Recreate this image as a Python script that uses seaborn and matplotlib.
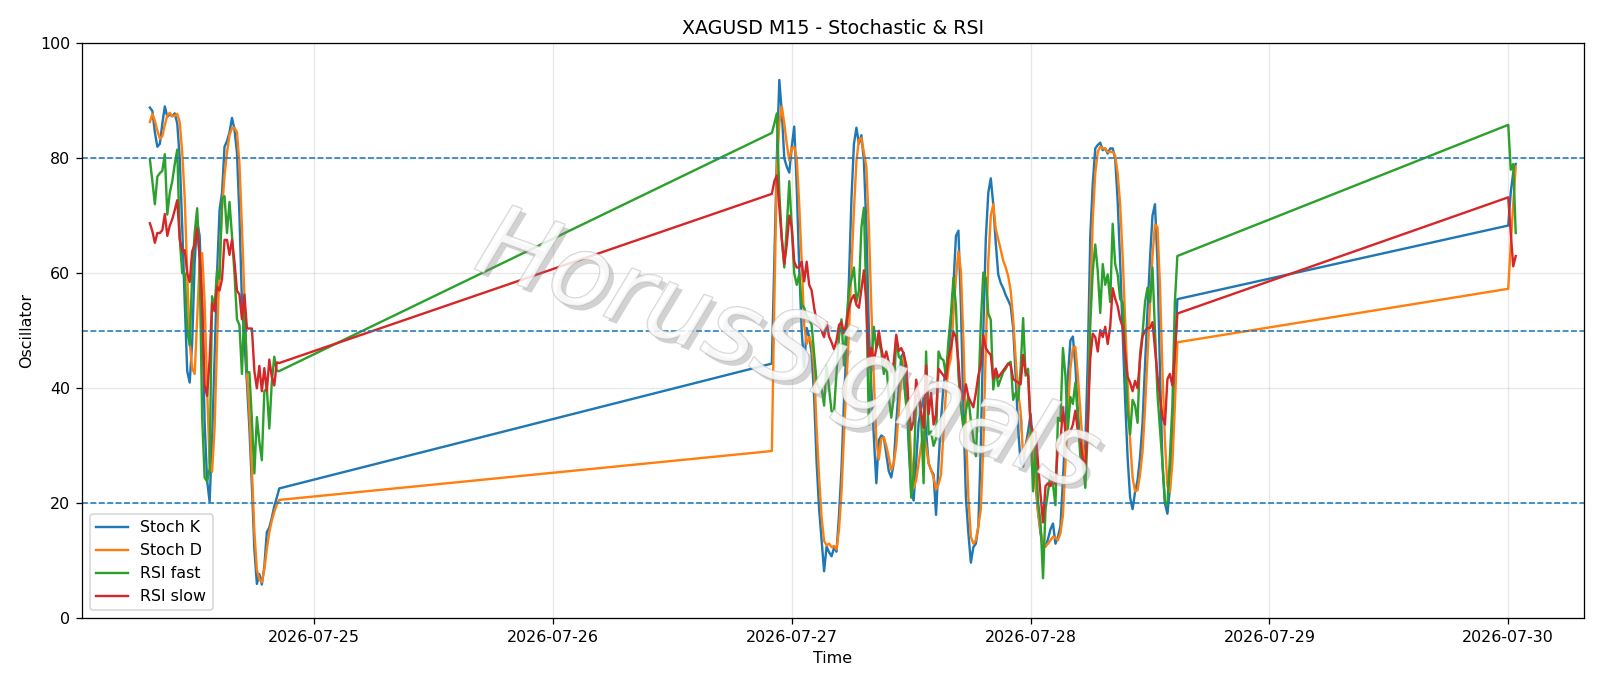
import pandas as pd
import matplotlib
matplotlib.use("Agg")
import matplotlib.pyplot as plt
import matplotlib.dates as mdates
import matplotlib.patheffects as pe
import seaborn as sns

# M15 bars, three sessions with gaps between them
seg_starts = ["2026-07-24 07:30", "2026-07-26 22:00", "2026-07-30 00:00"]

# session 1 (53 bars)
stoch_k_1 = [88.8, 88.2, 84.5, 82, 82.5, 86, 89, 87.2, 87.6,
             87.3, 87.8, 86, 80, 68, 55, 43, 41, 48, 62,
             69, 66.5, 54, 34, 24, 20.3, 31, 45, 60, 71,
             74, 82, 83, 84.5, 87, 85, 81, 70, 55, 48,
             41, 33, 23, 12, 6, 7.7, 5.9, 9, 15,
             15.8, 17.5, 19.5, 21, 22.6]
stoch_d_1 = [86.3, 87.7, 86.5, 84.8, 83.4, 83.8, 85.8, 87.4, 87.9,
             87.3, 87.4, 87.7, 86.3, 81, 73, 60, 48, 43.5, 42.5,
             52, 62, 63.5, 55, 40, 27, 25.5, 33, 48, 62,
             71, 77, 81, 84, 85.2, 85.3, 84.5, 79, 68, 56,
             43, 36, 26, 15, 8.5, 6.8, 6.3, 8.5, 12,
             15, 17, 18.5, 19.8, 20.6]
rsi_fast_1 = [79.8, 76, 72, 76.8, 77.4, 77.8, 80.7, 70.2, 74,
              76, 79, 81.5, 66, 60, 60, 50, 47.5, 60, 67,
              71.3, 62, 35, 24.5, 23.8, 26, 56, 54, 60.5, 59,
              73, 73.4, 67, 72.4, 66.5, 60, 52, 51, 42.5, 54.8,
              42.8, 42.8, 34.5, 25.2, 35, 30.7, 27.5, 39.5, 40,
              33, 41, 45.5, 43, 43]
rsi_slow_1 = [68.7, 67.3, 65.3, 67, 67, 67.5, 70.3, 66.5, 68.3,
              69.4, 71, 72.7, 66, 63.8, 64, 60, 58.5, 63.8, 65,
              67.8, 63, 55, 40.5, 38.7, 45, 54.8, 53.4, 57.7, 57,
              59, 65.8, 65.8, 63.2, 65.8, 62, 57, 56.3, 52, 56.3,
              50.4, 50.4, 50.4, 43, 40, 43.9, 39.5, 43.5, 39.5,
              45, 42, 40.5, 44.5, 44.4]

# session 2 (164 bars)
stoch_k_2 = [44.3, 62, 80, 93.6, 88, 80, 78.5, 77.5, 82, 85.5,
             75, 61, 50, 43.7, 50.5, 49, 46, 38.5, 27, 19,
             13.6, 8.2, 12.5, 11.5, 10.8, 12.3, 11.6, 18, 26, 38,
             47, 59, 73, 82.5, 85.3, 82.5, 84, 79.5, 68, 50,
             40, 31.5, 23.5, 31, 31.8, 31.5, 28.5, 25.6, 24.5, 27,
             34, 40, 45.5, 46.2, 40, 30, 22, 20.5, 27, 34,
             36.5, 38.3, 32.5, 27, 25.8, 25, 18, 27, 34.5, 40.5,
             43.5, 45.5, 50.7, 58, 66.5, 67.4, 54.3, 36, 21, 14.8,
             9.7, 12.4, 13, 16, 30, 50, 66, 74, 76.5, 72,
             65.3, 59.8, 58.3, 57.4, 56.2, 55.3, 54.3, 50.5, 42.2, 33,
             27, 26.4, 30, 32.5, 35.5, 30, 23.3, 18.5, 14.8, 12.4,
             12.5, 13.8, 15.5, 16.5, 13, 14.2, 16, 24, 33, 42,
             48.3, 49, 44, 36, 30, 27, 30, 45, 66.5, 75.6,
             81.7, 82.3, 82.7, 81.4, 81.7, 80.8, 81.7, 81.7, 80, 72.6,
             62, 50, 38, 28, 21, 19, 22, 24, 28, 34,
             44, 53.5, 62.5, 70, 72, 62, 43, 27, 20, 18.2,
             22.5, 33, 45, 55.5]
stoch_d_2 = [29.1, 55, 78, 86, 89, 86, 82.5, 79.6, 81.7, 82,
             80, 72, 62, 51, 47.7, 48.9, 47.7, 43.5, 33, 24.5,
             17.5, 13.5, 12.7, 13, 12.4, 12.6, 12, 15.5, 22, 32,
             41, 50, 61, 71, 79.5, 83.2, 83.5, 81, 78.5, 68,
             54, 41.5, 31, 27.6, 31.2, 31.5, 30, 28, 25.8, 27,
             30, 36, 42, 45.6, 44, 36, 28, 22.7, 24, 27,
             30, 32.5, 30, 27, 25.8, 24.5, 22.4, 23.3, 25, 32.5,
             39.5, 43.5, 45.3, 53, 59.2, 63.8, 60.4, 48.3, 33, 21,
             14.2, 13, 13.6, 16, 19, 30, 47, 62, 70, 72,
             67.7, 65.9, 64.1, 62.2, 61, 59.5, 57, 52, 45.2, 39.2,
             36, 28.2, 30, 31.3, 32.5, 30, 24, 18.5, 15.4, 13,
             12.5, 13, 13.6, 14.2, 14, 13.6, 14.8, 17.9, 27, 36,
             43.4, 47, 47.2, 42.2, 36, 30, 27, 33, 54.3, 69.5,
             77.4, 81.1, 82, 81.7, 81.7, 81.1, 81.1, 81.1, 80.5, 77.4,
             72, 63, 52, 41, 31, 24.5, 22.1, 22.3, 25, 29,
             36.5, 45.5, 54.5, 63, 68.5, 68, 58, 43, 31, 23,
             22, 27, 37, 48]
rsi_fast_2 = [84.4, 86, 87.8, 74, 66, 61, 68, 76, 68, 60,
              58, 59.8, 54.5, 54, 52.5, 52, 51, 46, 41, 40,
              40, 37, 44, 40, 36, 36, 42.8, 49, 52, 44,
              51.5, 57.2, 59, 61, 55, 57, 68, 71.4, 55, 33.7,
              44.6, 50.7, 47, 48.3, 46.4, 42.5, 44.5, 38.5, 34.9, 38.5,
              49, 45.5, 45, 41.5, 37, 33, 21, 25, 38.5, 39,
              35, 23.5, 46.4, 32, 32.5, 30, 31.3, 46.4, 45.2, 44.9,
              42.2, 48.3, 53, 59.2, 54.3, 42.2, 36.7, 33.1, 36.1, 38.5,
              34.3, 31.3, 28.2, 38.5, 51.3, 60.1, 59.2, 53, 51.9, 39.8,
              43.4, 40.4, 41.6, 42.8, 43.4, 44.3, 44.6, 38, 39.2, 38,
              43.4, 52.2, 42.2, 43.4, 33.1, 22.1, 30, 20.3, 16.7, 7,
              19, 22, 25, 23.3, 19.7, 34.9, 34.3, 47, 42.2, 33,
              38.5, 37.3, 41, 34.9, 28.2, 27, 22.7, 33, 51.3, 60.4,
              65, 60.4, 53.1, 61.6, 58, 59.8, 55, 68.6, 61.6, 59.8,
              55.5, 55, 46, 36, 32, 38, 37, 34, 46, 49.5,
              55, 57.5, 55, 61, 50, 39, 33, 27, 20.3, 19.7,
              28, 37, 55, 63]
rsi_slow_2 = [73.8, 76, 77, 71.4, 66, 61.6, 65, 70, 68, 62,
              61, 61, 62, 58.6, 62, 58, 57, 54, 51.6, 51.3,
              50, 48.9, 51.5, 49, 48, 46.8, 48.3, 51, 51.5, 49.5,
              51.5, 54, 55.5, 56.2, 54.5, 54, 57.2, 60.5, 54.5, 43.8,
              47, 44.6, 47, 50, 47, 44.8, 46.4, 44.5, 42.8, 44.5,
              49.3, 46.5, 47, 46, 44, 36.7, 32.8, 34.3, 41.5, 39.2,
              35.8, 33.1, 44, 35.5, 39.2, 33.7, 35.5, 43.4, 42.8, 42.2,
              41.6, 45.2, 47, 49.8, 48.9, 44.6, 38.5, 38, 40.7, 38.5,
              37.6, 36.7, 39.2, 42.2, 44, 49.2, 47, 46.3, 45.8, 41.6,
              43.4, 41.9, 42.5, 43.1, 43.7, 44.3, 44, 41.6, 41.3, 41,
              40.7, 45.8, 42.8, 42.2, 33.7, 32.5, 32.5, 27, 21.5, 16.7,
              23, 23.5, 23, 24.6, 23.3, 30, 30.6, 36.7, 32.5, 31.9,
              32.5, 33.7, 36.1, 32.5, 31.3, 27.6, 26.4, 34.3, 45.2, 49.5,
              48.9, 46.4, 50.1, 48.9, 50.7, 47.7, 50.7, 57.4, 55.6, 54.3,
              52, 50.7, 46, 42, 41, 39.5, 41.3, 40, 45, 49,
              50, 50.5, 50.5, 51.5, 47, 42.2, 38.5, 35, 33.7, 41.6,
              42.5, 40.5, 46, 53]

# session 3 (4 bars)
stoch_k_3 = [68.3, 74, 77.5, 79]
stoch_d_3 = [57.3, 65, 72, 78.5]
rsi_fast_3 = [85.8, 78, 79, 67]
rsi_slow_3 = [73.2, 67, 61.2, 63]

series_names = ["Stoch K", "Stoch D", "RSI fast", "RSI slow"]
levels = [80, 50, 20]

segments = [
    [stoch_k_1, stoch_d_1, rsi_fast_1, rsi_slow_1],
    [stoch_k_2, stoch_d_2, rsi_fast_2, rsi_slow_2],
    [stoch_k_3, stoch_d_3, rsi_fast_3, rsi_slow_3],
]

frames = []
for start, vals in zip(seg_starts, segments):
    t = pd.date_range(start, periods=len(vals[0]), freq="15min")
    d = pd.DataFrame(dict(zip(series_names, vals)))
    d["time"] = t
    frames.append(d)
df = pd.concat(frames, ignore_index=True)

fig, ax = plt.subplots(figsize=(14, 6.003), dpi=1600 / 14)
fig.subplots_adjust(left=0.051, right=0.99, top=0.937, bottom=0.0985)

colors = ["C0", "C1", "C2", "C3"]
for name, c in zip(series_names, colors):
    sns.lineplot(data=df, x="time", y=name, ax=ax, color=c, label=name,
                 linewidth=1.5, estimator=None)

for lv in levels:
    ax.axhline(lv, linestyle="--", linewidth=1, color="C0")

ax.set_ylim(0, 100)
ax.grid(True, alpha=0.3)
ax.xaxis.set_major_locator(mdates.DayLocator())
ax.xaxis.set_major_formatter(mdates.DateFormatter("%Y-%m-%d"))
ax.set_title("XAGUSD M15 - Stochastic & RSI")
ax.set_xlabel("Time")
ax.set_ylabel("Oscillator")
ax.legend(loc="lower left")

# watermark
ax.text(0.47, 0.46, "HorusSignals", transform=ax.transAxes, fontsize=63,
        rotation=-20, style="italic", color="white", alpha=0.6,
        ha="center", va="center", zorder=10,
        path_effects=[pe.SimplePatchShadow(offset=(3, -3), shadow_rgbFace="gray", alpha=0.35),
                      pe.Stroke(linewidth=1, foreground="#b5b5b5"),
                      pe.Normal()])

plt.savefig("out.png")
